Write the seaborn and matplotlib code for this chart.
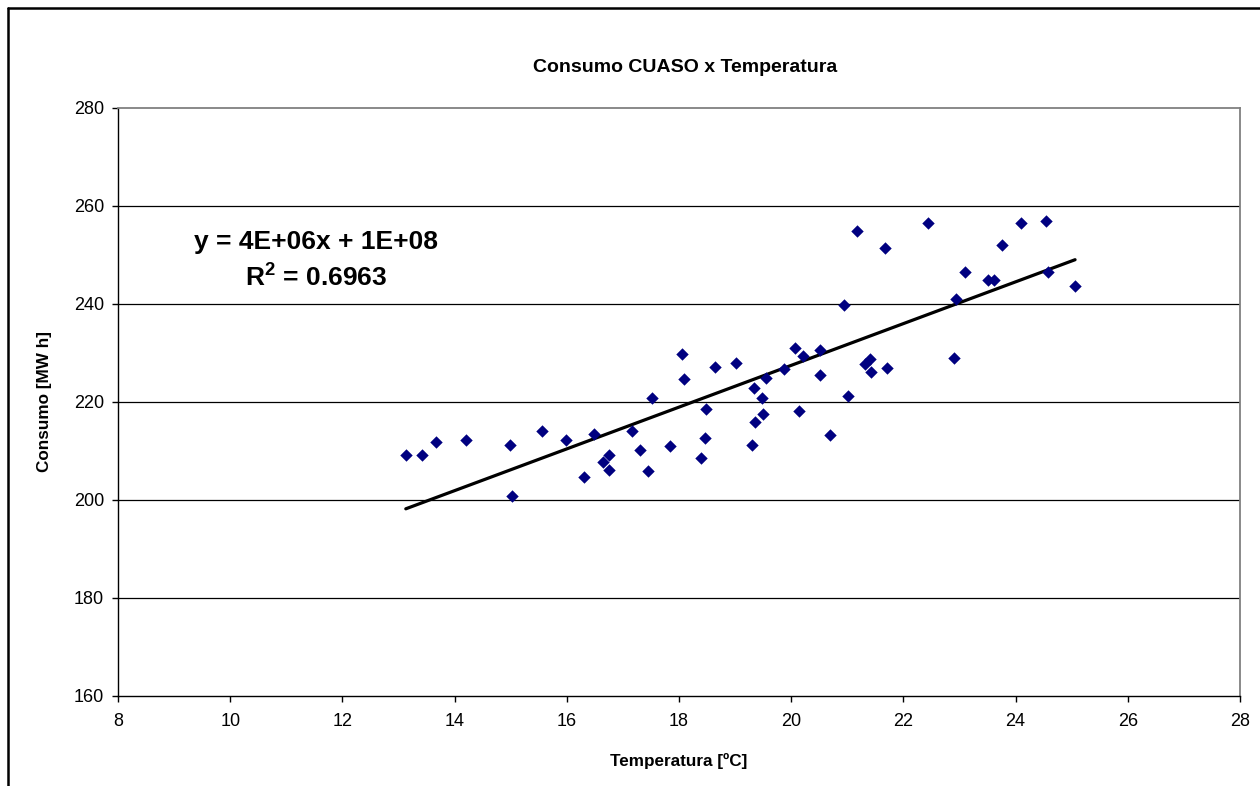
import numpy as np
import pandas as pd
import matplotlib
matplotlib.use("Agg")
import matplotlib.pyplot as plt
from matplotlib.lines import Line2D
import seaborn as sns

# Daily mean temperature (ºC) and energy consumption (MW h)
temperatura = [13.13, 13.42, 13.67, 14.20, 14.98, 15.02, 15.56, 15.98, 16.30, 16.49,
               16.65, 16.76, 16.75, 17.16, 17.31, 17.45, 17.52, 17.84, 18.06, 18.09,
               18.40, 18.46, 18.49, 18.64, 19.02, 19.31, 19.33, 19.35, 19.48, 19.50,
               19.55, 19.87, 20.06, 20.14, 20.21, 20.51, 20.51, 20.69, 20.95, 21.01,
               21.18, 21.32, 21.41, 21.42, 21.67, 21.70, 22.44, 22.91, 22.94, 23.10,
               23.50, 23.61, 23.76, 24.10, 24.55, 24.58, 25.06]
consumo = [209.1, 209.1, 211.8, 212.3, 211.2, 200.8, 214.0, 212.2, 204.7, 213.4,
           207.8, 209.2, 206.1, 214.1, 210.3, 205.9, 220.8, 211.1, 229.8, 224.6,
           208.6, 212.7, 218.6, 227.2, 228.0, 211.2, 222.9, 215.9, 220.9, 217.6,
           225.0, 226.7, 231.0, 218.2, 229.3, 230.7, 225.5, 213.3, 239.8, 221.2,
           254.9, 227.7, 228.8, 226.1, 251.4, 227.0, 256.5, 229.0, 241.0, 246.5,
           245.0, 245.0, 252.1, 256.6, 256.9, 246.5, 243.7]

titulo = "Consumo CUASO x Temperatura"
rotulo_x = "Temperatura [ºC]"
rotulo_y = "Consumo [MW h]"
equacao = "y = 4E+06x + 1E+08"
r2_texto = r"R$^{\mathbf{2}}$ = 0.6963"
x_ticks = list(range(8, 29, 2))
y_ticks = list(range(160, 281, 20))

df = pd.DataFrame({"temperatura": temperatura, "consumo": consumo})

sns.set_style("white")
plt.rcParams["font.family"] = ["Liberation Sans", "DejaVu Sans"]
plt.rcParams["text.color"] = "black"
plt.rcParams["axes.labelcolor"] = "black"
plt.rcParams["xtick.color"] = "black"
plt.rcParams["ytick.color"] = "black"
plt.rcParams["mathtext.fontset"] = "custom"
plt.rcParams["mathtext.rm"] = "Liberation Sans"
plt.rcParams["mathtext.bf"] = "Liberation Sans:bold"

fig = plt.figure(figsize=(12.6, 7.86), dpi=100)
ax = fig.add_axes([118 / 1260, 1 - 696 / 786, (1240 - 118) / 1260, (696 - 108) / 786])

# horizontal gridlines
for yv in y_ticks[1:-1]:
    ax.axhline(yv, color="black", lw=0.9, zorder=0)

sns.regplot(data=df, x="temperatura", y="consumo", scatter=False, ci=None,
            truncate=True, ax=ax, line_kws={"color": "black", "lw": 2.3, "zorder": 2})
sns.scatterplot(data=df, x="temperatura", y="consumo", marker="D", s=40,
                color="#000080", edgecolor="#000080", linewidth=0, ax=ax, zorder=3)

ax.set_xlim(8, 28)
ax.set_ylim(160, 280)
ax.set_xticks(x_ticks)
ax.set_yticks(y_ticks)
ax.tick_params(axis="both", direction="out", length=4, width=1, color="black",
               labelsize=13, pad=6, bottom=True, left=True)
ax.tick_params(axis="x", pad=8)

for side in ["top", "right"]:
    ax.spines[side].set_color("#808080")
    ax.spines[side].set_linewidth(1.3)
for side in ["left", "bottom"]:
    ax.spines[side].set_color("black")
    ax.spines[side].set_linewidth(1.0)
    ax.spines[side].set_visible(True)

ax.set_xlabel(rotulo_x, fontsize=12.3, fontweight="bold", labelpad=17)
ax.set_ylabel(rotulo_y, fontsize=12.3, fontweight="bold", labelpad=16)
fig.text(685 / 1260, 1 - 68 / 786, titulo, ha="center", va="center",
         fontsize=14, fontweight="bold")

# regression equation and coefficient of determination
ax.text(316 / 1260, 1 - 242 / 786, equacao, transform=fig.transFigure,
        ha="center", va="center", fontsize=19, fontweight="bold")
ax.text(316 / 1260, 1 - 277 / 786, r2_texto, transform=fig.transFigure,
        ha="center", va="center", fontsize=19, fontweight="bold")

# chart area border
fig.add_artist(Line2D([8 / 1260, 1.0], [1 - 7.5 / 786, 1 - 7.5 / 786],
                      transform=fig.transFigure, color="black", lw=1.8))
fig.add_artist(Line2D([8 / 1260, 8 / 1260], [0.0, 1 - 7.5 / 786],
                      transform=fig.transFigure, color="black", lw=1.8))

fig.savefig("out.png", dpi=100)
